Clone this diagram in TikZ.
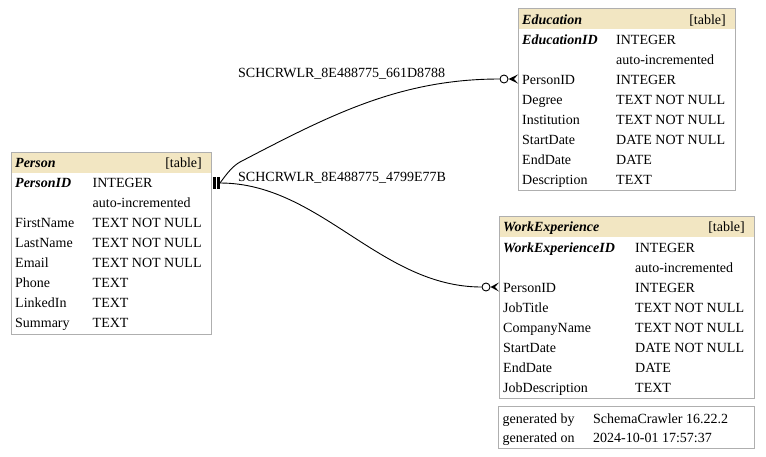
\documentclass[tikz,border=0pt]{standalone}
\usepackage{fontspec}
\setmainfont{Liberation Serif}
\definecolor{hdrtan}{RGB}{242,230,194}
\definecolor{boxgray}{RGB}{175,175,175}

\begin{document}
\begin{tikzpicture}[x=1pt,y=-1pt,
  every node/.style={font=\fontsize{14}{16}\selectfont,inner sep=0pt},
  tblbox/.style={draw=boxgray,line width=1.2pt,anchor=north west},
  hdrfill/.style={fill=hdrtan,anchor=north west},
  cell/.style={anchor=base west,yshift=-1pt},
  keycell/.style={anchor=base west,yshift=-1pt,font=\fontsize{14}{16}\selectfont\bfseries\itshape},
  tagcell/.style={anchor=base east,yshift=-1pt},
  odot/.style={circle,draw,fill=white,line width=0.9pt,minimum size=8pt},
  rel/.style={line width=0.9pt}]
\useasboundingbox (0,0) rectangle (766,456);

% Person
\node[hdrfill,minimum width=199pt,minimum height=20pt] (personhdr) at (11.5,152.5) {};
\node[tblbox,minimum width=200pt,minimum height=182pt] (person) at (11,152) {};
\node[keycell] (personname) at (15,166) {Person};
\node[tagcell] (persontag) at (202,166) {[table]};
\node[keycell] (personid) at (15,186) {PersonID};
\node[cell] (personid-t) at (92.5,186) {INTEGER};
\node[cell] (personid-a) at (92.5,206) {auto-incremented};
\foreach \fld/\typ [count=\i] in {FirstName/TEXT NOT NULL,LastName/TEXT NOT NULL,Email/TEXT NOT NULL,Phone/TEXT,LinkedIn/TEXT,Summary/TEXT}{
  \node[cell] (person-\i) at (15,206+20*\i) {\fld};
  \node[cell] (person-\i-t) at (92.5,206+20*\i) {\typ};
}

% Education
\node[hdrfill,minimum width=216pt,minimum height=21pt] (eduhdr) at (518.5,8) {};
\node[tblbox,minimum width=217pt,minimum height=182pt] (edu) at (518,7.5) {};
\node[keycell] (eduname) at (522,23) {Education};
\node[tagcell] (edutag) at (726,23) {[table]};
\node[keycell] (eduid) at (522,43) {EducationID};
\node[cell] (eduid-t) at (616,43) {INTEGER};
\node[cell] (eduid-a) at (616,63) {auto-incremented};
\foreach \fld/\typ [count=\i] in {PersonID/INTEGER,Degree/TEXT NOT NULL,Institution/TEXT NOT NULL,StartDate/DATE NOT NULL,EndDate/DATE,Description/TEXT}{
  \node[cell] (edu-\i) at (522,63+20*\i) {\fld};
  \node[cell] (edu-\i-t) at (616,63+20*\i) {\typ};
}

% WorkExperience
\node[hdrfill,minimum width=254pt,minimum height=21pt] (workhdr) at (499.5,216) {};
\node[tblbox,minimum width=255pt,minimum height=182pt] (work) at (499,215.5) {};
\node[keycell] (workname) at (503,230) {WorkExperience};
\node[tagcell] (worktag) at (745,230) {[table]};
\node[keycell] (workid) at (503,251) {WorkExperienceID};
\node[cell] (workid-t) at (635,251) {INTEGER};
\node[cell] (workid-a) at (635,271) {auto-incremented};
\foreach \fld/\typ [count=\i] in {PersonID/INTEGER,JobTitle/TEXT NOT NULL,CompanyName/TEXT NOT NULL,StartDate/DATE NOT NULL,EndDate/DATE,JobDescription/TEXT}{
  \node[cell] (work-\i) at (503,271+20*\i) {\fld};
  \node[cell] (work-\i-t) at (635,271+20*\i) {\typ};
}

% generated-by box
\node[tblbox,minimum width=256pt,minimum height=42.5pt] (gen) at (498,405.5) {};
\node[cell] (genby) at (502.5,422) {generated by};
\node[cell] (genby-v) at (593,422) {SchemaCrawler 16.22.2};
\node[cell] (genon) at (502.5,441) {generated on};
\node[cell] (genon-v) at (593,441) {2024-10-01 17:57:37};

% relationships
\coordinate (personpk) at (220,183);
\fill (212.5,177) rectangle (215.5,189);
\fill (216.5,177) rectangle (219.5,189);

\node[odot] (eduodot) at (504,79) {};
\draw[rel] (personpk) .. controls (228,172) and (233,166) .. (240,162)
  .. controls (330,115) and (400,79) .. (eduodot.west);
\fill (eduodot.east) -- (518,74.5) -- (514,79) -- (518,83.5) -- cycle;
\node[cell] (rel1) at (238,76) {SCHCRWLR\_8E488775\_661D8788};

\node[odot] (workodot) at (486,287) {};
\draw[rel] (personpk) .. controls (320,183) and (380,287) .. (workodot.west);
\fill (workodot.east) -- (499,282.5) -- (495,287) -- (499,291.5) -- cycle;
\node[cell] (rel2) at (238,180) {SCHCRWLR\_8E488775\_4799E77B};
\end{tikzpicture}
\end{document}
